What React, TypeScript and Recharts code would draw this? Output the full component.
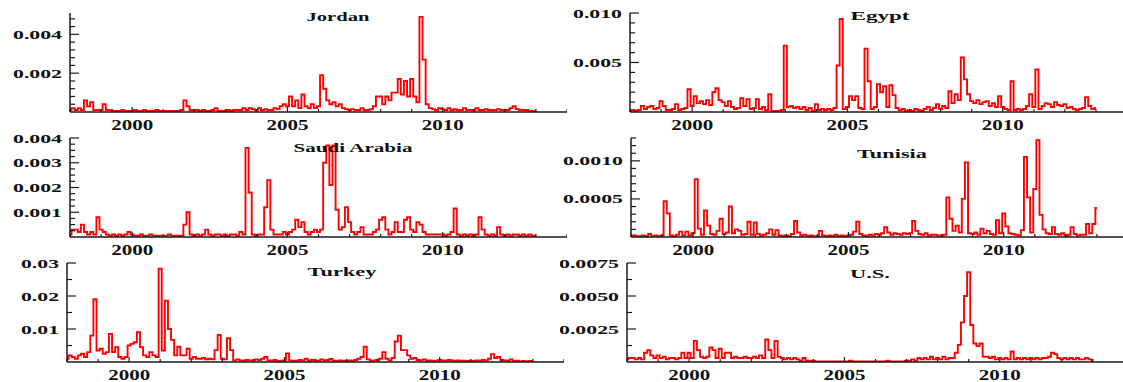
import { LineChart, Line, XAxis, YAxis } from "recharts";

const START = 1998;
const STEP = 0.1;

const years = [1998, 1999, 2000, 2001, 2002, 2003, 2004, 2005, 2006, 2007, 2008, 2009, 2010, 2011, 2012, 2013, 2014];
const yearLabels = [2000, 2005, 2010];

const jordan = [
  0.0001, 0.0002, 0.0001, 0.0002, 0.0001, 0.0006, 0.0003, 0.0005, 0.0001, 0.0001, // 1998
  0.0001, 0.0004, 0.0001, 0.0001, 0.00005, 0.00005, 0.00005, 0.0001, 0.00005, 0.00005, // 1999
  0.00005, 0.0001, 0.00005, 0.00005, 0.0001, 0.00005, 0.00005, 0.00005, 0.0001, 0.00005, // 2000
  0.00005, 0.00005, 0.00005, 0.00005, 0.00005, 0.00005, 0.0001, 0.0006, 0.0003, 0.0001, // 2001
  0.0001, 0.0001, 0.00005, 0.0001, 0.00005, 0.00005, 0.0001, 0.0002, 0.00005, 0.00005, // 2002
  0.00005, 0.0001, 0.00005, 0.0001, 0.0001, 0.0001, 0.0002, 0.0001, 0.0002, 0.00015, // 2003
  0.0001, 0.0002, 0.0001, 0.00015, 0.0001, 0.0001, 0.0002, 0.00015, 0.0003, 0.0004, // 2004
  0.0003, 0.0008, 0.0003, 0.0006, 0.0002, 0.0009, 0.0003, 0.0002, 0.0004, 0.0002, // 2005
  0.0003, 0.0019, 0.0012, 0.0006, 0.0004, 0.0005, 0.0003, 0.0004, 0.0002, 0.00015, // 2006
  0.0001, 0.00015, 0.0001, 0.0001, 0.0002, 0.0001, 0.0001, 0.00015, 0.0003, 0.0008, // 2007
  0.0008, 0.0004, 0.0008, 0.0006, 0.001, 0.001, 0.0017, 0.0009, 0.0016, 0.0008, // 2008
  0.0017, 0.0008, 0.0005, 0.0049, 0.0027, 0.0004, 0.0002, 0.00015, 0.0001, 0.0002, // 2009
  0.00015, 0.0001, 0.0002, 0.0001, 0.00015, 0.0001, 0.0001, 0.0002, 0.0001, 0.0001, // 2010
  0.0001, 0.0002, 0.0001, 0.0001, 0.00015, 0.0001, 0.0001, 0.0001, 0.00015, 0.0001, // 2011
  0.0001, 0.0001, 0.0002, 0.0003, 0.00015, 0.0001, 0.0001, 0.0001, 0.00005, 0.00005, // 2012
  0.00005, // 2013
];

const egypt = [
  0.0001, 0.0002, 0.0001, 0.0002, 0.0006, 0.0003, 0.0005, 0.0006, 0.0003, 0.0004,
  0.0011, 0.0006, 0.0002, 0.0002, 0.0003, 0.0008, 0.0002, 0.0003, 0.0004, 0.0023,
  0.0006, 0.0016, 0.0009, 0.0011, 0.0008, 0.0012, 0.0007, 0.002, 0.0024, 0.0012,
  0.001, 0.0006, 0.0011, 0.0005, 0.0003, 0.0004, 0.0014, 0.0006, 0.0013, 0.0003,
  0.0004, 0.0013, 0.0003, 0.0005, 0.0002, 0.0018, 0.0001, 0.0001, 0.0001, 0.0002,
  0.0067, 0.0005, 0.0006, 0.0004, 0.0005, 0.0003, 0.0005, 0.0002, 0.0004, 0.0001,
  0.0008, 0.0002, 0.0003, 0.0002, 0.0003, 0.0002, 0.0004, 0.0047, 0.0094, 0.0003,
  0.0005, 0.0016, 0.0012, 0.0016, 0.0004, 0.0003, 0.0064, 0.0031, 0.0003, 0.0005,
  0.0028, 0.002, 0.0026, 0.0005, 0.0027, 0.0017, 0.0004, 0.0002, 0.0003, 0.0001,
  0.0002, 0.0001, 0.0003, 0.0002, 0.0001, 0.0003, 0.0005, 0.0002, 0.0004, 0.0008,
  0.0003, 0.0006, 0.0004, 0.0021, 0.0009, 0.0018, 0.0012, 0.0055, 0.0033, 0.0018,
  0.0011, 0.0009, 0.0012, 0.0008, 0.001, 0.0011, 0.0006, 0.0009, 0.0005, 0.0016,
  0.0005, 0.0003, 0.0002, 0.0031, 0.0002, 0.0003, 0.0002, 0.0003, 0.0006, 0.0018,
  0.0005, 0.0043, 0.0003, 0.0006, 0.0009, 0.0008, 0.0005, 0.001, 0.0007, 0.0006,
  0.0008, 0.0004, 0.0005, 0.0003, 0.0002, 0.0003, 0.0004, 0.0015, 0.0006, 0.0003,
  0.0004,
];

const saudi = [
  0.0001, 0.0003, 0.0003, 0.0002, 0.0005, 0.0002, 0.0001, 0.0002, 0.0001, 0.0008,
  0.0003, 0.0002, 0.0001, 0.00005, 0.0001, 0.00005, 0.0001, 0.00005, 0.0001, 0.0002,
  0.0001, 0.00005, 0.00005, 0.0001, 0.00005, 0.00005, 0.0001, 0.00005, 0.00005, 0.00005,
  0.00005, 0.00005, 0.0001, 0.00005, 0.00005, 0.00005, 0.00005, 0.0005, 0.001, 0.0001,
  0.00005, 0.0001, 0.00005, 0.0001, 0.0003, 0.0001, 0.00005, 0.0001, 0.0001, 0.00005,
  0.0001, 0.00005, 0.0001, 0.0001, 0.00005, 0.0002, 0.0001, 0.0036, 0.0018, 0.0001,
  0.00005, 0.0001, 0.0001, 0.0012, 0.0023, 0.0003, 0.0001, 0.0001, 0.0001, 0.0002,
  0.0001, 0.0002, 0.0003, 0.0007, 0.0004, 0.0006, 0.0002, 0.0001, 0.0002, 0.0003,
  0.0002, 0.0003, 0.003, 0.0037, 0.0021, 0.0037, 0.0011, 0.0003, 0.0004, 0.0012,
  0.0006, 0.0002, 0.0001, 0.0002, 0.0004, 0.0001, 0.0001, 0.0001, 0.0002, 0.0003,
  0.0007, 0.0008, 0.0003, 0.0001, 0.0002, 0.0006, 0.0002, 0.0002, 0.0007, 0.0008,
  0.0003, 0.0002, 0.0006, 0.0005, 0.0002, 0.0001, 0.0001, 0.0001, 0.0001, 0.0001,
  0.0001, 0.00005, 0.0001, 0.0002, 0.00115, 0.0001, 0.00005, 0.0001, 0.00005, 0.0001,
  0.00005, 0.0001, 0.0008, 0.0003, 0.0001, 0.00005, 0.0001, 0.00005, 0.0004, 0.0001,
  0.00005, 0.0001, 0.00005, 0.0001, 0.0001, 0.00005, 0.0001, 0.00005, 0.0001, 0.00005,
  0.00005,
];

const tunisia = [
  0.00001, 0.00002, 0.00001, 0.00001, 0.00002, 0.00001, 0.00004, 0.00001, 0.00002, 0.00001,
  0.00002, 0.00047, 0.00031, 0.00002, 0.00001, 0.00003, 0.00007, 0.00002, 0.00007, 0.00002,
  0.00005, 0.00076, 0.00011, 0.00003, 0.00035, 0.00015, 0.00004, 0.00003, 0.00008, 0.00024,
  0.00004, 0.00006, 0.0004, 0.00005, 0.0001, 0.00008, 0.00003, 0.00004, 0.0002, 0.00003,
  0.00019, 0.00004, 0.00002, 0.00003, 0.00005, 0.0001, 0.00003, 0.00009, 0.00002, 0.00001,
  0.00002, 0.00001, 0.00004, 0.00021, 0.00006, 0.00002, 0.00003, 0.00001, 0.00002, 0.00001,
  0.00001, 0.00008, 0.00002, 0.00001, 0.00002, 0.00001, 0.00003, 0.00001, 0.00002, 0.00001,
  0.00002, 0.00003, 0.00007, 0.0002, 0.00004, 0.00002, 0.00001, 0.00003, 0.00002, 0.00004,
  0.00003, 0.00005, 0.00013, 0.00006, 0.00003, 0.00005, 0.00004, 0.00003, 0.00005, 0.00004,
  0.00005, 0.00021, 0.00008, 0.00004, 0.00003, 0.00005, 0.00002, 0.00003, 0.00003, 0.00002,
  0.00002, 0.00003, 0.00052, 0.00024, 0.00008, 0.00015, 0.00006, 0.0005, 0.00098, 0.00005,
  0.00004, 0.00006, 0.00003, 0.00011, 0.00005, 0.00008, 0.00004, 0.00003, 0.00022, 0.00005,
  0.00031, 0.00014, 0.00005, 0.00004, 0.00003, 0.00002, 0.00009, 0.00105, 0.00052, 0.00006,
  0.00063, 0.00127, 0.00029, 0.0001, 0.00005, 0.00004, 0.00013, 0.00004, 0.00003, 0.00005,
  0.00002, 0.00003, 0.00013, 0.00004, 0.00002, 0.00003, 0.00003, 0.00017, 0.00005, 0.00017,
  0.00038,
];

const turkey = [
  0.001, 0.002, 0.0015, 0.001, 0.002, 0.0025, 0.0015, 0.003, 0.008, 0.019,
  0.0035, 0.004, 0.0025, 0.003, 0.0085, 0.003, 0.0045, 0.0015, 0.001, 0.0015,
  0.005, 0.0055, 0.006, 0.009, 0.0045, 0.002, 0.0015, 0.003, 0.002, 0.0015,
  0.0283, 0.0035, 0.0186, 0.01, 0.0067, 0.002, 0.0046, 0.002, 0.002, 0.004,
  0.001, 0.0015, 0.001, 0.001, 0.0012, 0.0008, 0.001, 0.0008, 0.0036, 0.0082,
  0.001, 0.0008, 0.0072, 0.0036, 0.0005, 0.0008, 0.0005, 0.0004, 0.0006, 0.0005,
  0.0005, 0.0008, 0.0006, 0.001, 0.0015, 0.0005, 0.0004, 0.0006, 0.0003, 0.0004,
  0.0005, 0.0026, 0.0005, 0.0003, 0.0004, 0.0006, 0.0005, 0.001, 0.0004, 0.0006,
  0.0005, 0.0004, 0.0008, 0.0005, 0.0006, 0.0009, 0.0004, 0.0003, 0.0005, 0.0004,
  0.0003, 0.0005, 0.0004, 0.0006, 0.001, 0.0015, 0.0046, 0.0008, 0.0004, 0.0005,
  0.0006, 0.001, 0.003, 0.001, 0.0005, 0.0012, 0.0062, 0.008, 0.0036, 0.0036,
  0.002, 0.001, 0.0012, 0.0006, 0.0005, 0.0008, 0.0004, 0.0005, 0.0003, 0.0004,
  0.0006, 0.0005, 0.0004, 0.0006, 0.0005, 0.0003, 0.0005, 0.0003, 0.0004, 0.0003,
  0.0004, 0.0003, 0.0005, 0.0004, 0.0006, 0.0005, 0.001, 0.0024, 0.0012, 0.0015,
  0.0006, 0.0005, 0.0004, 0.0008, 0.0003, 0.0004, 0.0002, 0.0003, 0.0002, 0.0003,
  0.0003,
];

const us = [
  0.0002, 0.0003, 0.0003, 0.0002, 0.0003, 0.0002, 0.0007, 0.0009, 0.0005, 0.0003,
  0.0005, 0.0003, 0.0004, 0.0002, 0.0003, 0.0003, 0.0002, 0.0003, 0.0007, 0.0003,
  0.0007, 0.0003, 0.0016, 0.0009, 0.0004, 0.0003, 0.0004, 0.0011, 0.0009, 0.0003,
  0.001, 0.0003, 0.0007, 0.0007, 0.0003, 0.0004, 0.0003, 0.0003, 0.0004, 0.0003,
  0.0003, 0.0004, 0.0003, 0.0005, 0.0003, 0.0017, 0.0009, 0.0003, 0.0016, 0.0004,
  0.0003, 0.0002, 0.0003, 0.0002, 0.0003, 0.0002, 0.0001, 0.0003, 0.0001, 0.0001,
  0.0001, 0.00005, 0.00005, 0.00005, 0.00005, 0.00005, 0.00005, 0.00005, 0.00005, 0.00005,
  0.00005, 0.00005, 0.0001, 0.00005, 0.00005, 0.00005, 0.00005, 0.00005, 0.00005, 0.00005,
  0.00005, 0.00005, 0.00005, 0.00005, 0.0001, 0.00005, 0.00005, 0.00005, 0.00005, 0.00005,
  0.0001, 0.0001, 0.0002, 0.0001, 0.0003, 0.0002, 0.0003, 0.0002, 0.0004, 0.0002,
  0.0003, 0.0002, 0.0004, 0.0002, 0.0003, 0.0003, 0.0007, 0.0013, 0.003, 0.005,
  0.0068, 0.0028, 0.0014, 0.0012, 0.0014, 0.0004, 0.0004, 0.0003, 0.0004, 0.0002,
  0.0003, 0.0002, 0.0003, 0.0002, 0.0008, 0.0002, 0.0003, 0.0002, 0.0003, 0.0002,
  0.0003, 0.0002, 0.0003, 0.0002, 0.0003, 0.0003, 0.0004, 0.0007, 0.0006, 0.0003,
  0.0002, 0.0003, 0.0002, 0.0003, 0.0002, 0.0003, 0.0002, 0.0002, 0.0003, 0.0002,
  0.0001,
];

// y ticks (every one drawn, labelled ones listed separately)
const jordanTicks = [0.0004, 0.0008, 0.0012, 0.0016, 0.002, 0.0024, 0.0028, 0.0032, 0.0036, 0.004, 0.0044, 0.0048];
const jordanLabels = [0.002, 0.004];
const egyptTicks = [0.001, 0.002, 0.003, 0.004, 0.005, 0.006, 0.007, 0.008, 0.009, 0.01];
const egyptLabels = [0.005, 0.01];
const saudiTicks = [0.00025, 0.0005, 0.00075, 0.001, 0.00125, 0.0015, 0.00175, 0.002, 0.00225, 0.0025, 0.00275, 0.003, 0.00325, 0.0035, 0.00375, 0.004];
const saudiLabels = [0.001, 0.002, 0.003, 0.004];
const tunisiaTicks = [0.0001, 0.0002, 0.0003, 0.0004, 0.0005, 0.0006, 0.0007, 0.0008, 0.0009, 0.001, 0.0011, 0.0012, 0.0013];
const tunisiaLabels = [0.0005, 0.001];
const turkeyTicks = [0.005, 0.01, 0.015, 0.02, 0.025, 0.03];
const turkeyLabels = [0.01, 0.02, 0.03];
const usTicks = [0.00125, 0.0025, 0.00375, 0.005, 0.00625, 0.0075];
const usLabels = [0.0025, 0.005, 0.0075];

const FONT = "'Liberation Serif', 'DejaVu Serif', serif";
const AXIS = "#1a1a1a";
const PLOT_W = 497;
const PLOT_H = 99;
const Y_W = 62;

const panels = [
  { name: "Jordan", values: jordan, max: 0.0051, ticks: jordanTicks, labels: jordanLabels, digits: 3, left: 0, top: 0, axisX: 70, tx: 338, ty: 21, tw: 63 },
  { name: "Egypt", values: egypt, max: 0.01, ticks: egyptTicks, labels: egyptLabels, digits: 3, left: 560, top: 0, axisX: 630, tx: 880, ty: 20, tw: 59 },
  { name: "Saudi Arabia", values: saudi, max: 0.004, ticks: saudiTicks, labels: saudiLabels, digits: 3, left: 0, top: 125, axisX: 70, tx: 353, ty: 152, tw: 119 },
  { name: "Tunisia", values: tunisia, max: 0.0013, ticks: tunisiaTicks, labels: tunisiaLabels, digits: 4, left: 560, top: 125, axisX: 631, tx: 892, ty: 158, tw: 70 },
  { name: "Turkey", values: turkey, max: 0.03, ticks: turkeyTicks, labels: turkeyLabels, digits: 2, left: 0, top: 250, axisX: 67, tx: 342, ty: 276, tw: 69 },
  { name: "U.S.", values: us, max: 0.0075, ticks: usTicks, labels: usLabels, digits: 4, left: 560, top: 250, axisX: 627, tx: 870, ty: 278, tw: 40 },
];

type PanelDef = (typeof panels)[number];

function renderXTick(props: any) {
  const { x, y, payload } = props;
  const labelled = yearLabels.includes(payload.value);
  return (
    <g>
      <line x1={x} x2={x} y1={y} y2={y - (labelled ? 5 : 3)} stroke={AXIS} strokeWidth={1.2} />
      {labelled && (
        <text
          x={x}
          y={y + 13}
          textAnchor="middle"
          dominantBaseline="central"
          fontFamily={FONT}
          fontWeight="bold"
          fontSize={14}
          fill="#111"
          textLength={42}
          lengthAdjust="spacingAndGlyphs"
        >
          {payload.value}
        </text>
      )}
    </g>
  );
}

function renderYTick(props: any, p: PanelDef) {
  const { x, y, payload } = props;
  const major = p.labels.some((l) => Math.abs(l - payload.value) < 1e-9);
  const label = payload.value.toFixed(p.digits);
  return (
    <g>
      <line x1={x} x2={x + (major ? 9 : 5)} y1={y} y2={y} stroke={AXIS} strokeWidth={1.2} />
      {major && (
        <text
          x={x - 8}
          y={y}
          textAnchor="end"
          dominantBaseline="central"
          fontFamily={FONT}
          fontWeight="bold"
          fontSize={13}
          fill="#111"
          textLength={label.length * 11 - 6}
          lengthAdjust="spacingAndGlyphs"
        >
          {label}
        </text>
      )}
    </g>
  );
}

function Panel({ p }: { p: PanelDef }) {
  const data = p.values.map((v, i) => ({ t: Math.round((START + i * STEP) * 10) / 10, v }));
  const marginLeft = p.axisX - p.left - Y_W;
  return (
    <div style={{ position: "absolute", left: p.left, top: p.top }}>
      <LineChart
        width={marginLeft + Y_W + PLOT_W}
        height={13 + PLOT_H + 20}
        data={data}
        margin={{ top: 13, right: 0, bottom: 0, left: marginLeft }}
      >
        <XAxis
          dataKey="t"
          type="number"
          domain={[1998, 2014]}
          ticks={years}
          interval={0}
          tickSize={0}
          tickMargin={0}
          height={20}
          axisLine={{ stroke: AXIS, strokeWidth: 1.5 }}
          tick={renderXTick}
          allowDataOverflow
        />
        <YAxis
          type="number"
          domain={[0, p.max]}
          ticks={p.ticks}
          interval={0}
          tickSize={0}
          tickMargin={0}
          width={Y_W}
          axisLine={{ stroke: AXIS, strokeWidth: 1.5 }}
          tick={(props: any) => renderYTick(props, p)}
          allowDataOverflow
        />
        <Line
          dataKey="v"
          type="step"
          stroke="#ff0000"
          strokeWidth={1.9}
          dot={false}
          isAnimationActive={false}
        />
      </LineChart>
    </div>
  );
}

export default function App() {
  return (
    <div
      style={{
        position: "absolute",
        left: 0,
        top: 0,
        width: 1123,
        height: 382,
        overflow: "hidden",
        background: "#fff",
      }}
    >
      {panels.map((p) => (
        <Panel key={p.name} p={p} />
      ))}
      <svg
        width={1123}
        height={382}
        style={{ position: "absolute", left: 0, top: 0, pointerEvents: "none" }}
      >
        {panels.map((p) => (
          <text
            key={p.name}
            x={p.tx}
            y={p.ty}
            textAnchor="middle"
            fontFamily={FONT}
            fontWeight="bold"
            fontSize={13}
            fill="#111"
            textLength={p.tw}
            lengthAdjust="spacingAndGlyphs"
          >
            {p.name}
          </text>
        ))}
      </svg>
    </div>
  );
}
